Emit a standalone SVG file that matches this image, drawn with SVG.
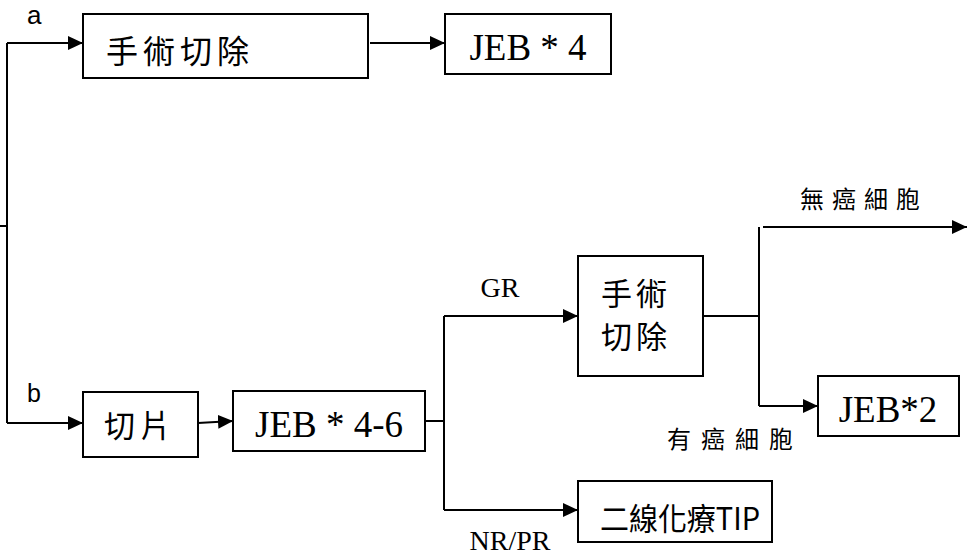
<svg xmlns="http://www.w3.org/2000/svg" width="967" height="556" viewBox="0 0 967 556">
<style>
.box{fill:#fff;stroke:#000;stroke-width:2}
.ln{fill:none;stroke:#000;stroke-width:2}
.cjk{font-family:"Noto Sans CJK TC","Noto Sans CJK SC",sans-serif;font-weight:400;fill:#000}
.ser{font-family:"Liberation Serif",serif;fill:#000}
.san{font-family:"Liberation Sans",sans-serif;fill:#000}
</style>
<defs>
<marker id="ah" markerUnits="userSpaceOnUse" markerWidth="16" markerHeight="14" refX="15" refY="7" orient="auto">
<path d="M0,0 L15,7 L0,14 Z" fill="#000"/>
</marker>
</defs>
<rect width="967" height="556" fill="#fff"/>
<g id="connectors">
<path class="ln" d="M0,226 H7"/>
<path class="ln" d="M7,43 V423"/>
<path class="ln" d="M7,43 H83" marker-end="url(#ah)"/>
<path class="ln" d="M370,43 H445" marker-end="url(#ah)"/>
<path class="ln" d="M7,423 H83" marker-end="url(#ah)"/>
<path class="ln" d="M198,423 L233,421" marker-end="url(#ah)"/>
<path class="ln" d="M425,421 H444"/>
<path class="ln" d="M444,316 V510"/>
<path class="ln" d="M444,316 H578" marker-end="url(#ah)"/>
<path class="ln" d="M444,510 H578" marker-end="url(#ah)"/>
<path class="ln" d="M703,316 H759"/>
<path class="ln" d="M759,227 V406"/>
<path class="ln" d="M763,227 H967" marker-end="url(#ah)"/>
<path class="ln" d="M759,406 H818" marker-end="url(#ah)"/>
<text class="san" x="27" y="24" font-size="26">a</text>
<text class="san" x="27" y="402" font-size="25">b</text>
<text class="ser" x="500" y="297" font-size="28" text-anchor="middle">GR</text>
<text class="ser" x="510" y="550" font-size="28" text-anchor="middle">NR/PR</text>
<text class="cjk" x="800" y="208" font-size="24" letter-spacing="8">無癌細胞</text>
<text class="cjk" x="667" y="448" font-size="24" letter-spacing="10">有癌細胞</text>
</g>
<g id="n1">
<rect class="box" x="83" y="14" width="285" height="64"/>
<text class="cjk" x="106" y="63" font-size="32" letter-spacing="5">手術切除</text>
</g>
<g id="n2">
<rect class="box" x="445" y="14" width="166" height="60"/>
<text class="ser" x="528" y="60" font-size="37" text-anchor="middle">JEB * 4</text>
</g>
<g id="n3">
<rect class="box" x="83" y="392" width="115" height="65"/>
<text class="cjk" x="104" y="437" font-size="31" letter-spacing="5">切片</text>
</g>
<g id="n4">
<rect class="box" x="233" y="391" width="192" height="60"/>
<text class="ser" x="329" y="437" font-size="37" text-anchor="middle">JEB * 4-6</text>
</g>
<g id="n5">
<rect class="box" x="578" y="256" width="125" height="120"/>
<text class="cjk" x="601" y="305" font-size="31" letter-spacing="4">手術</text>
<text class="cjk" x="601" y="348" font-size="31" letter-spacing="4">切除</text>
</g>
<g id="n6">
<rect class="box" x="578" y="481" width="194" height="61"/>
<text class="cjk" x="600" y="530" font-size="31" textLength="160" lengthAdjust="spacingAndGlyphs">二線化療TIP</text>
</g>
<g id="n7">
<rect class="box" x="818" y="376" width="141" height="60"/>
<text class="ser" x="888" y="422" font-size="37" text-anchor="middle">JEB*2</text>
</g>
</svg>
